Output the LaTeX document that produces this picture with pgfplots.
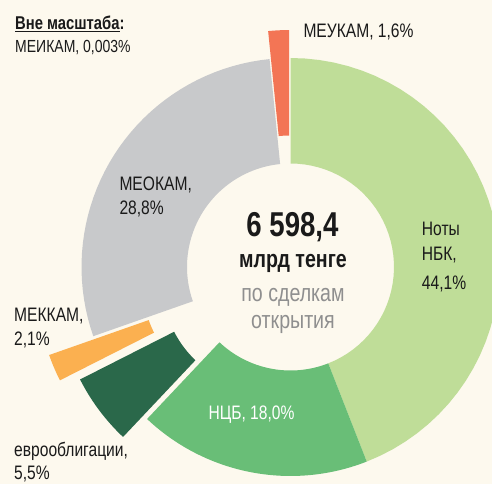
\documentclass[border=0pt]{standalone}
\usepackage{fontspec}
\setmainfont{Liberation Sans}[FakeStretch=0.8]
\usepackage{pgfplots}
\pgfplotsset{compat=1.18}
\definecolor{bg}{HTML}{FDF9EE}
\definecolor{cNoty}{HTML}{BFDD98}
\definecolor{cNCB}{HTML}{69BE77}
\definecolor{cEvro}{HTML}{2A684A}
\definecolor{cMEKKAM}{HTML}{FBB050}
\definecolor{cMEOKAM}{HTML}{C8C9CB}
\definecolor{cMEUKAM}{HTML}{F37555}
\definecolor{txt}{HTML}{1A1A1A}
\definecolor{gtxt}{HTML}{8F8F8F}
% data (shares, %)
\def\vNoty{44.1}
\def\vNCB{18.0}
\def\vEvro{5.5}
\def\vMEKKAM{2.1}
\def\vMEOKAM{28.8}
\def\vMEUKAM{1.6}
\pgfmathsetmacro\tot{\vNoty+\vNCB+\vEvro+\vMEKKAM+\vMEOKAM+\vMEUKAM}
\pgfmathsetmacro\aA{90}
\pgfmathsetmacro\aB{\aA-360*\vNoty/\tot}
\pgfmathsetmacro\aC{\aB-360*\vNCB/\tot}
\pgfmathsetmacro\aD{\aC-360*\vEvro/\tot}
\pgfmathsetmacro\aE{\aD-360*\vMEKKAM/\tot}
\pgfmathsetmacro\aF{\aE-360*\vMEOKAM/\tot}
\pgfmathsetmacro\aG{\aF-360*\vMEUKAM/\tot}
\def\cx{290.5}
\def\cy{217}
\def\Ro{209}
\def\Ri{103.5}
% #1 colour, #2 start angle, #3 end angle, #4 explode offset
\newcommand\sector[4]{%
  \addplot[fill=#1, draw=none, variable=\t,
    samples at={0,1,...,40,40.01,41,42,...,80}]
  ({\cx + (#4)*cos(((#2)+(#3))/2) + (\t<40.005 ? \Ro : \Ri)*cos(\t<40.005 ? (#2)+((#3)-(#2))*\t/40 : (#3)-((#3)-(#2))*(\t-40.01)/39.99)},
   {\cy + (#4)*sin(((#2)+(#3))/2) + (\t<40.005 ? \Ro : \Ri)*sin(\t<40.005 ? (#2)+((#3)-(#2))*\t/40 : (#3)-((#3)-(#2))*(\t-40.01)/39.99)});
}
\newcommand\lab{\fontsize{19.5bp}{22bp}\selectfont}
\begin{document}
\begin{tikzpicture}
\fill[bg] (0,0) rectangle (492bp,484bp);
\begin{axis}[at={(0,0)}, anchor=south west, x=1bp, y=1bp,
  xmin=0, xmax=492, ymin=0, ymax=484, hide axis, clip=true]
\sector{cNoty}{\aA}{\aB}{0}
\sector{cNCB}{\aB}{\aC}{0}
\sector{cEvro}{\aC}{\aD}{30}
\sector{cMEKKAM}{\aD}{\aE}{48}
\sector{cMEOKAM}{\aE}{\aF}{0}
\sector{cMEUKAM}{\aF}{\aG}{28}
\end{axis}
\begin{scope}[every node/.style={inner sep=0pt, text=txt}]
\node[anchor=base west, font=\fontsize{18.5bp}{20bp}\selectfont\bfseries] at (15bp,454.5bp) {\underline{Вне масштаба}:};
\node[anchor=base west, font=\fontsize{17.5bp}{20bp}\selectfont] at (15bp,431.3bp) {МЕИКАМ, 0,003\%};
\node[anchor=base west, font=\lab] at (303.3bp,446.5bp) {МЕУКАМ, 1,6\%};
\node[anchor=base west, font=\lab] at (119.3bp,293bp) {МЕОКАМ,};
\node[anchor=base west, font=\lab] at (119.3bp,269.7bp) {28,8\%};
\node[anchor=base west, font=\lab] at (421.7bp,248.3bp) {Ноты};
\node[anchor=base west, font=\lab] at (421.7bp,223.3bp) {НБК,};
\node[anchor=base west, font=\lab] at (421.7bp,194.7bp) {44,1\%};
\node[anchor=base west, font=\lab] at (14bp,162.3bp) {МЕККАМ,};
\node[anchor=base west, font=\lab] at (14bp,138bp) {2,1\%};
\node[anchor=base west, font=\lab] at (14bp,28bp) {еврооблигации,};
\node[anchor=base west, font=\lab] at (14bp,4.6bp) {5,5\%};
\node[anchor=base west, font=\lab, text=white] at (208.3bp,64.7bp) {НЦБ, 18,0\%};
\node[anchor=base, font=\fontsize{34.5bp}{36bp}\selectfont\bfseries] at (292.5bp,247.3bp) {6 598,4};
\node[anchor=base, font=\fontsize{24.5bp}{27bp}\selectfont\bfseries] at (293bp,216.7bp) {млрд тенге};
\node[anchor=base, font=\fontsize{24.5bp}{27bp}\selectfont, text=gtxt] at (293bp,182.3bp) {по сделкам};
\node[anchor=base, font=\fontsize{24.5bp}{27bp}\selectfont, text=gtxt] at (293bp,155.7bp) {открытия};
\end{scope}
\end{tikzpicture}
\end{document}
